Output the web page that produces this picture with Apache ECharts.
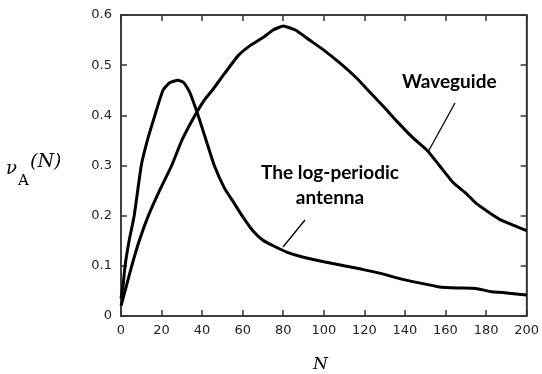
<!DOCTYPE html>
<html>
<head>
<meta charset="utf-8">
<script src="https://cdn.jsdelivr.net/npm/echarts@6/dist/echarts.min.js"></script>
<style>
html,body{margin:0;padding:0;background:#fff;}
#c{width:542px;height:374px;}
</style>
</head>
<body>
<div id="c"></div>
<script>
// Data
var lpN = [0, 1, 2, 4, 6.5, 10, 13, 16.7, 20.7, 24, 28, 31, 34, 38, 42, 46, 51, 55, 60, 65, 70, 75, 82, 90, 100, 110, 119, 128, 137, 147, 157, 166, 175, 182, 190, 200];
var lpV = [0.035, 0.06, 0.1, 0.15, 0.2, 0.3, 0.35, 0.4, 0.45, 0.465, 0.47, 0.465, 0.445, 0.4, 0.35, 0.3, 0.255, 0.23, 0.198, 0.17, 0.151, 0.14, 0.127, 0.117, 0.108, 0.1, 0.093, 0.085, 0.075, 0.066, 0.058, 0.056, 0.055, 0.049, 0.046, 0.042];

var wgN = [0, 2, 5.3, 9, 13.5, 19, 25, 30, 36.5, 41, 45, 51, 58, 64, 70, 75, 80, 86, 93, 100, 108, 116, 123, 130, 137, 144, 151, 157, 164, 170, 175, 182, 188, 194, 200];
var wgV = [0.02, 0.05, 0.1, 0.15, 0.2, 0.25, 0.3, 0.35, 0.4, 0.43, 0.45, 0.483, 0.52, 0.54, 0.555, 0.57, 0.578, 0.57, 0.55, 0.53, 0.504, 0.475, 0.445, 0.415, 0.384, 0.355, 0.33, 0.3, 0.265, 0.245, 0.225, 0.205, 0.19, 0.18, 0.17];

var labelWG = "Waveguide";
var labelLP = "The log-periodic\nantenna";

function pairs(xs, ys) { return xs.map(function (x, i) { return [x, ys[i]]; }); }
function mkLine() { return {show: true, onZero: false, lineStyle: {color: '#333', width: 1.5}}; }
function mkTick() { return {show: true, inside: true, length: 6, lineStyle: {color: '#333', width: 1.5}}; }

var chart = echarts.init(document.getElementById('c'), null, {renderer: 'canvas'});
chart.setOption({
  animation: false,
  backgroundColor: '#fff',
  grid: {left: 121, right: 15, top: 15, bottom: 58, show: true, borderColor: '#333', borderWidth: 1.5, backgroundColor: 'transparent'},
  xAxis: [
    {type: 'value', position: 'bottom', min: 0, max: 200, interval: 20,
     axisLine: mkLine(), axisTick: mkTick(), splitLine: {show: false},
     axisLabel: {color: '#222', fontFamily: 'DejaVu Sans', fontSize: 13, margin: 8}},
    {type: 'value', position: 'top', min: 0, max: 200, interval: 20,
     axisLine: mkLine(), axisTick: mkTick(), splitLine: {show: false},
     axisLabel: {show: false}}
  ],
  yAxis: [
    {type: 'value', position: 'left', min: 0, max: 0.6, interval: 0.1,
     axisLine: mkLine(), axisTick: mkTick(), splitLine: {show: false},
     axisLabel: {color: '#222', fontFamily: 'DejaVu Sans', fontSize: 13, margin: 9}},
    {type: 'value', position: 'right', min: 0, max: 0.6, interval: 0.1,
     axisLine: mkLine(), axisTick: mkTick(), splitLine: {show: false},
     axisLabel: {show: false}}
  ],
  series: [
    {type: 'line', data: pairs(lpN, lpV), showSymbol: false, smooth: 0.15, lineStyle: {color: '#000', width: 3}},
    {type: 'line', data: pairs(wgN, wgV), showSymbol: false, smooth: 0.15, lineStyle: {color: '#000', width: 3}}
  ],
  graphic: [
    {type: 'text', left: 402, top: 72,
     style: {text: labelWG, font: 'bold 19px Lato', fill: '#000'}},
    {type: 'line', shape: {x1: 455, y1: 103, x2: 428, y2: 152}, style: {stroke: '#000', lineWidth: 1.3}},
    {type: 'text', x: 330, y: 160,
     style: {text: labelLP, font: 'bold 19px Lato', fill: '#000', textAlign: 'center', lineHeight: 25}},
    {type: 'line', shape: {x1: 305, y1: 220, x2: 283, y2: 247}, style: {stroke: '#000', lineWidth: 1.3}},
    {type: 'text', left: 6, top: 160,
     style: {text: 'ν', font: 'italic 18px "DejaVu Serif"', fill: '#000'}},
    {type: 'text', left: 18, top: 174,
     style: {text: 'A', font: '15px "DejaVu Serif"', fill: '#000'}},
    {type: 'text', left: 30, top: 153,
     style: {text: '(N)', font: 'italic 19px "DejaVu Serif"', fill: '#000'}},
    {type: 'text', left: 313, top: 356,
     style: {text: 'N', font: 'italic 17px "DejaVu Serif"', fill: '#000'}}
  ]
});
</script>
</body>
</html>
